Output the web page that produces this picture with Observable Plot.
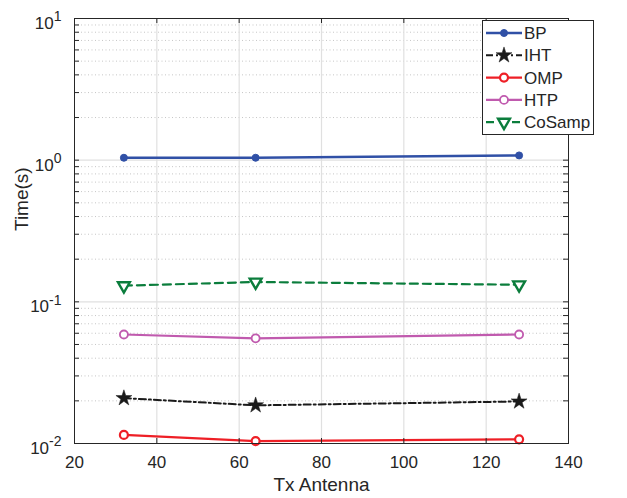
<!DOCTYPE html>
<html><head><meta charset="utf-8">
<script src="https://cdn.jsdelivr.net/npm/d3@7"></script>
<script src="https://cdn.jsdelivr.net/npm/@observablehq/plot@0.6"></script>
<style>
body{margin:0;background:#fff;}
#chart{position:relative;width:627px;height:498px;}
</style>
</head><body><div id="chart"></div>
<script>
const antennas = [32, 64, 128];
const bp = [1.04, 1.04, 1.08];
const iht = [0.0209, 0.0186, 0.0198];
const omp = [0.0115, 0.0104, 0.0107];
const htp = [0.0588, 0.0553, 0.0588];
const cosamp = [0.130, 0.138, 0.132];
const seriesNames = ["BP", "IHT", "OMP", "HTP", "CoSamp"];
const xTicks = [20, 40, 60, 80, 100, 120, 140];
const yDecades = [0.01, 0.1, 1, 10];

const styles = {
  BP:     {color: "#3050a6", dash: null,      symbol: "circle",   fill: "#3050a6", r: 3.5, sw: 2.5, msw: 1,   rotate: 0},
  IHT:    {color: "#1a1a1a", dash: "7,3,2,3", symbol: "star",     fill: "#1a1a1a", r: 5.0, sw: 2.0, msw: 0.5, rotate: 0},
  OMP:    {color: "#ee1f26", dash: null,      symbol: "circle",   fill: "white",   r: 4.0, sw: 2.4, msw: 2.2, rotate: 0},
  HTP:    {color: "#c05aae", dash: null,      symbol: "circle",   fill: "white",   r: 4.0, sw: 2.2, msw: 1.8, rotate: 0},
  CoSamp: {color: "#0b7d3c", dash: "8,5",     symbol: "triangle", fill: "white",   r: 4.4, sw: 2.2, msw: 2.4, rotate: 180}
};
const values = {BP: bp, IHT: iht, OMP: omp, HTP: htp, CoSamp: cosamp};
const data = seriesNames.flatMap(s => antennas.map((a, i) => ({series: s, x: a, y: values[s][i]})));

const minor = [];
for (const d of yDecades.slice(0, -1)) for (let k = 2; k <= 9; k++) minor.push(d * k);
const allY = [...yDecades, ...minor];

const mL = 74, mR = 59, mT = 18, mB = 55, W = 627, H = 498;
const fw = W - mL - mR, fh = H - mT - mB;
const axisColor = "#262626";
const FONT = "'Liberation Sans', Arial, Helvetica, sans-serif";

const marks = [
  Plot.ruleY(minor, {stroke: "#b8b8b8", strokeDasharray: "1,2.5", strokeWidth: 0.8}),
  Plot.ruleY(yDecades.slice(1, -1), {stroke: "#e0e0e0", strokeWidth: 1.2}),
  Plot.ruleX(xTicks.slice(1, -1), {stroke: "#e0e0e0", strokeWidth: 1.2}),
];
for (const s of seriesNames) {
  const st = styles[s];
  const d = data.filter(r => r.series === s);
  marks.push(Plot.line(d, {x: "x", y: "y", stroke: st.color, strokeWidth: st.sw, strokeDasharray: st.dash}));
}
for (const s of seriesNames) {
  const st = styles[s];
  const d = data.filter(r => r.series === s);
  marks.push(Plot.dot(d, {x: "x", y: "y", symbol: st.symbol, r: st.r, fill: st.fill, stroke: st.color, strokeWidth: st.msw, rotate: st.rotate}));
}
marks.push(
  Plot.frame({stroke: axisColor, strokeWidth: 1}),
  Plot.ruleY(allY, {stroke: axisColor, insetRight: fw - 5, strokeWidth: 1}),
  Plot.ruleY(allY, {stroke: axisColor, insetLeft: fw - 5, strokeWidth: 1}),
  Plot.ruleX(xTicks, {stroke: axisColor, insetTop: fh - 5, strokeWidth: 1}),
  Plot.ruleX(xTicks, {stroke: axisColor, insetBottom: fh - 5, strokeWidth: 1}),
  Plot.axisX({ticks: xTicks, tickSize: 0, tickPadding: 12, label: null, fill: axisColor}),
  Plot.axisY({ticks: yDecades, tickSize: 0, tickPadding: 13, dy: 5, label: null, fill: axisColor,
              tickFormat: d => "10|" + Math.round(Math.log10(d))}),
  Plot.text(["Tx Antenna"], {frameAnchor: "bottom", dy: 47, fontSize: 19, fill: axisColor}),
  Plot.text(["Time(s)"], {frameAnchor: "left", dx: -53, rotate: -90, fontSize: 19, fill: axisColor})
);

const chart = Plot.plot({
  width: W, height: H, marginLeft: mL, marginRight: mR, marginTop: mT, marginBottom: mB,
  x: {domain: [20, 140]},
  y: {type: "log", domain: [0.01, 10]},
  style: {fontFamily: FONT, fontSize: "17px", background: "white", color: axisColor},
  marks
});

// superscript exponents on y tick labels
d3.select(chart).selectAll("g[aria-label='y-axis tick label'] text").each(function() {
  const t = d3.select(this);
  const txt = t.text();
  if (!txt.includes("|")) return;
  const [base, exp] = txt.split("|");
  t.text(null);
  t.append("tspan").text(base);
  t.append("tspan").attr("dy", "-0.55em").attr("font-size", "14px").text(exp);
});

// legend inside the axes (top-right)
const svg = d3.select(chart);
const lg = svg.append("g").attr("transform", "translate(482,20)")
  .attr("font-family", FONT).attr("font-size", 17).attr("text-anchor", "start");
lg.append("rect").attr("x", 0.5).attr("y", 0.5).attr("width", 111).attr("height", 114)
  .attr("fill", "white").attr("stroke", axisColor).attr("stroke-width", 1);
const symMap = {circle: d3.symbolCircle, star: d3.symbolStar, triangle: d3.symbolTriangle};
seriesNames.forEach((s, i) => {
  const st = styles[s];
  const cy = 13 + i * 22.3;
  const row = lg.append("g").attr("transform", `translate(0,${cy})`);
  row.append("line").attr("x1", 4).attr("x2", 40).attr("y1", 0).attr("y2", 0)
    .attr("stroke", st.color).attr("stroke-width", st.sw).attr("stroke-dasharray", st.dash);
  const area = Math.PI * st.r * st.r;
  row.append("path").attr("d", d3.symbol(symMap[st.symbol], area)())
    .attr("transform", `translate(22,0) rotate(${st.rotate})`)
    .attr("fill", st.fill).attr("stroke", st.color).attr("stroke-width", st.msw);
  row.append("text").attr("x", 42).attr("y", 0).attr("dy", "0.36em").attr("fill", axisColor).text(s);
});

document.getElementById("chart").appendChild(chart);
</script>
</body></html>
